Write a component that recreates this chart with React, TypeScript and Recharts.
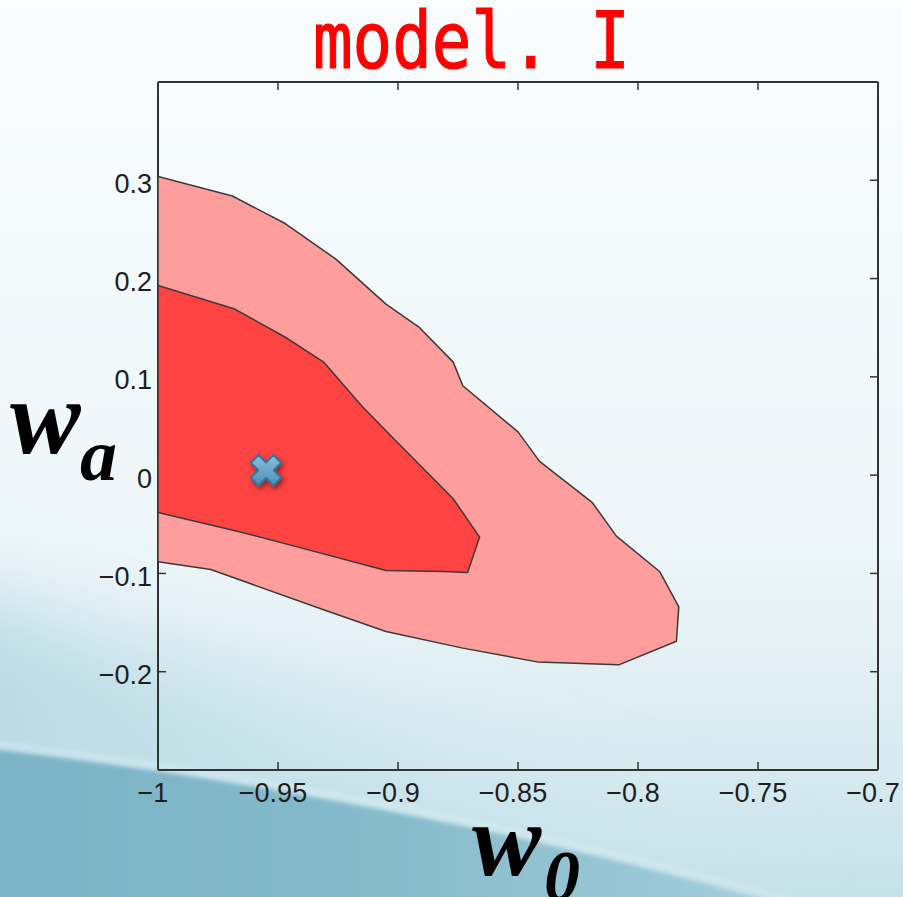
import React from 'react';
import { ScatterChart, Scatter, XAxis, YAxis } from 'recharts';

// outer confidence contour, traced clockwise
const outerW0 = [-1, -0.969, -0.947, -0.926, -0.905, -0.891, -0.877, -0.873, -0.85, -0.841, -0.819, -0.809, -0.791, -0.783, -0.784, -0.808, -0.842, -0.873, -0.905, -0.931, -0.978, -1];
const outerWa = [0.304, 0.284, 0.256, 0.22, 0.174, 0.15, 0.115, 0.091, 0.044, 0.014, -0.028, -0.062, -0.098, -0.134, -0.169, -0.193, -0.19, -0.176, -0.159, -0.137, -0.096, -0.088];

// inner confidence contour
const innerW0 = [-1, -0.968, -0.946, -0.931, -0.915, -0.903, -0.89, -0.877, -0.866, -0.871, -0.881, -0.905, -0.942, -0.967, -1];
const innerWa = [0.193, 0.169, 0.139, 0.115, 0.07, 0.04, 0.008, -0.024, -0.063, -0.099, -0.098, -0.097, -0.073, -0.057, -0.038];

// best-fit marker
const bestW0 = [-0.955];
const bestWa = [0.005];

const xTicks = [-1, -0.95, -0.9, -0.85, -0.8, -0.75, -0.7];
const yTicks = [-0.2, -0.1, 0, 0.1, 0.2, 0.3];
const xDomain = [-1, -0.7];
const yDomain = [-0.3, 0.4];

const toPoints = (xs: number[], ys: number[]) => xs.map((x, i) => ({ x, y: ys[i] }));
const outerData = toPoints(outerW0, outerWa);
const innerData = toPoints(innerW0, innerWa);
const bestData = toPoints(bestW0, bestWa);

const fmt = (v: number) => {
  if (Math.abs(v) < 1e-9) return '0';
  const s = String(Math.round(Math.abs(v) * 100) / 100);
  return v < 0 ? '\u2212' + s : s;
};

const polygonLine = (fill: string) => (props: any) => {
  const pts = props.points || [];
  const d = pts.map((p: any, i: number) => `${i ? 'L' : 'M'}${p.x},${p.y}`).join(' ') + ' Z';
  return <path d={d} fill={fill} stroke="#3a3a3a" strokeWidth={1.5} strokeLinejoin="round" />;
};

const Hidden = () => <g />;

const CrossMarker = (props: any) => {
  const { cx, cy } = props;
  const a = 16;
  const w = 5.5;
  const pts = [
    [-w, -a], [w, -a], [w, -w], [a, -w], [a, w], [w, w], [w, a], [-w, a], [-w, w], [-a, w], [-a, -w], [-w, -w],
  ];
  const c = Math.SQRT1_2;
  const rot = pts.map(([x, y]) => [(x - y) * c, (x + y) * c]);
  const d = rot.map(([x, y], i) => `${i ? 'L' : 'M'}${cx + x},${cy + y}`).join(' ') + ' Z';
  return (
    <g>
      <defs>
        <filter id="xshadow" x="-50%" y="-50%" width="200%" height="200%">
          <feGaussianBlur in="SourceAlpha" stdDeviation="2.5" />
          <feOffset dx="2" dy="3" result="b" />
          <feComponentTransfer>
            <feFuncA type="linear" slope="0.45" />
          </feComponentTransfer>
          <feMerge>
            <feMergeNode />
            <feMergeNode in="SourceGraphic" />
          </feMerge>
        </filter>
        <linearGradient id="xgrad" x1="0" y1="0" x2="0" y2="1">
          <stop offset="0" stopColor="#8ec0dc" />
          <stop offset="1" stopColor="#4b8db5" />
        </linearGradient>
      </defs>
      <path d={d} fill="url(#xgrad)" stroke="#2a78a3" strokeWidth={2} strokeLinejoin="round" filter="url(#xshadow)" />
    </g>
  );
};

const tickStyle = { fontSize: 27, fill: '#1e1e1e', fontFamily: '"Liberation Sans", Arial, sans-serif' };
const axisStroke = '#333333';

export default function App() {
  return (
    <div style={{ position: 'absolute', left: 0, top: 0, width: 903, height: 897, overflow: 'hidden' }}>
      <svg width={903} height={897} style={{ position: 'absolute', left: 0, top: 0 }}>
        <defs>
          <linearGradient id="bg" x1="0" y1="0" x2="0" y2="1">
            <stop offset="0" stopColor="#fafdfe" />
            <stop offset="0.6" stopColor="#eef6f9" />
            <stop offset="0.85" stopColor="#d8ebf0" />
            <stop offset="1" stopColor="#c6e1e9" />
          </linearGradient>
          <linearGradient id="haze" x1="0" y1="0" x2="1" y2="0.3">
            <stop offset="0" stopColor="#a3cedb" stopOpacity="0.8" />
            <stop offset="0.5" stopColor="#b4d8e2" stopOpacity="0.4" />
            <stop offset="1" stopColor="#c6e1e9" stopOpacity="0" />
          </linearGradient>
          <linearGradient id="deep" x1="0" y1="0" x2="1" y2="0">
            <stop offset="0" stopColor="#7bb3c6" />
            <stop offset="0.5" stopColor="#86bbcc" />
            <stop offset="1" stopColor="#a6cfdb" />
          </linearGradient>
          <filter id="soft" x="-20%" y="-20%" width="140%" height="140%">
            <feGaussianBlur stdDeviation="45" />
          </filter>
          <filter id="soft2" x="-5%" y="-5%" width="110%" height="110%">
            <feGaussianBlur stdDeviation="2" />
          </filter>
        </defs>
        <rect x={0} y={0} width={903} height={897} fill="url(#bg)" />
        <path d="M-100,580 Q 350,710 980,930 L980,980 L-100,980 Z" fill="url(#haze)" filter="url(#soft)" />
        <path d="M-10,749 Q 420,800 800,910 L-10,910 Z" fill="url(#deep)" filter="url(#soft2)" />
        <path d="M-10,743 Q 420,794 810,905" fill="none" stroke="#d9edf2" strokeOpacity={0.55} strokeWidth={5} filter="url(#soft2)" />
        <text
          x={313}
          y={68}
          fill="#ff0000"
          stroke="#ff0000"
          strokeWidth={1.2}
          fontSize={78}
          fontFamily='"DejaVu Sans Mono", "Liberation Mono", monospace'
          textLength={317}
          lengthAdjust="spacingAndGlyphs"
        >
          model. I
        </text>
      </svg>
      <div style={{ position: 'absolute', left: 0, top: 0 }}>
        <ScatterChart width={903} height={897} margin={{ top: 72, right: 15, bottom: 67, left: 0 }}>
          <XAxis
            xAxisId="bottom"
            type="number"
            dataKey="x"
            domain={xDomain}
            ticks={xTicks}
            allowDataOverflow
            tickFormatter={fmt}
            tickSize={-8}
            tickMargin={21}
            height={60}
            tick={{ ...tickStyle, dx: -5 }}
            stroke={axisStroke}
            axisLine={{ stroke: axisStroke, strokeWidth: 2 }}
            tickLine={{ stroke: axisStroke, strokeWidth: 1.5 }}
            interval={0}
            label={{
              content: () => (
                <text fontFamily='"Liberation Serif", "Times New Roman", serif' fontWeight="bold" fontStyle="italic" fill="#000">
                  <tspan x={472} y={875} fontSize={104}>w</tspan>
                  <tspan x={544} y={900} fontSize={72}>0</tspan>
                </text>
              ),
            }}
          />
          <XAxis
            xAxisId="top"
            orientation="top"
            type="number"
            dataKey="x"
            domain={xDomain}
            ticks={xTicks}
            allowDataOverflow
            tickFormatter={() => ''}
            tickSize={-8}
            height={10}
            stroke={axisStroke}
            axisLine={{ stroke: axisStroke, strokeWidth: 2 }}
            tickLine={{ stroke: axisStroke, strokeWidth: 1.5 }}
            interval={0}
          />
          <YAxis
            yAxisId="left"
            type="number"
            dataKey="y"
            domain={yDomain}
            ticks={yTicks}
            allowDataOverflow
            tickFormatter={fmt}
            tickSize={-8}
            tickMargin={14}
            width={158}
            tick={{ ...tickStyle, dy: 3 }}
            stroke={axisStroke}
            axisLine={{ stroke: axisStroke, strokeWidth: 2 }}
            tickLine={{ stroke: axisStroke, strokeWidth: 1.5 }}
            interval={0}
            label={{
              content: () => (
                <text fontFamily='"Liberation Serif", "Times New Roman", serif' fontWeight="bold" fontStyle="italic" fill="#000">
                  <tspan x={10} y={453} fontSize={106}>w</tspan>
                  <tspan x={80} y={480} fontSize={74}>a</tspan>
                </text>
              ),
            }}
          />
          <YAxis
            yAxisId="right"
            orientation="right"
            type="number"
            dataKey="y"
            domain={yDomain}
            ticks={yTicks}
            allowDataOverflow
            tickFormatter={() => ''}
            tickSize={-8}
            width={10}
            stroke={axisStroke}
            axisLine={{ stroke: axisStroke, strokeWidth: 2 }}
            tickLine={{ stroke: axisStroke, strokeWidth: 1.5 }}
            interval={0}
          />
          <Scatter
            xAxisId="bottom"
            yAxisId="left"
            data={outerData}
            fill="#ff9c9c"
            line={polygonLine('#ff9c9c')}
            lineType="joint"
            shape={Hidden}
            isAnimationActive={false}
          />
          <Scatter
            xAxisId="bottom"
            yAxisId="left"
            data={innerData}
            fill="#ff4242"
            line={polygonLine('#ff4242')}
            lineType="joint"
            shape={Hidden}
            isAnimationActive={false}
          />
          <Scatter
            xAxisId="bottom"
            yAxisId="left"
            data={bestData}
            fill="#5a9cc4"
            shape={CrossMarker}
            isAnimationActive={false}
          />
        </ScatterChart>
      </div>
    </div>
  );
}
